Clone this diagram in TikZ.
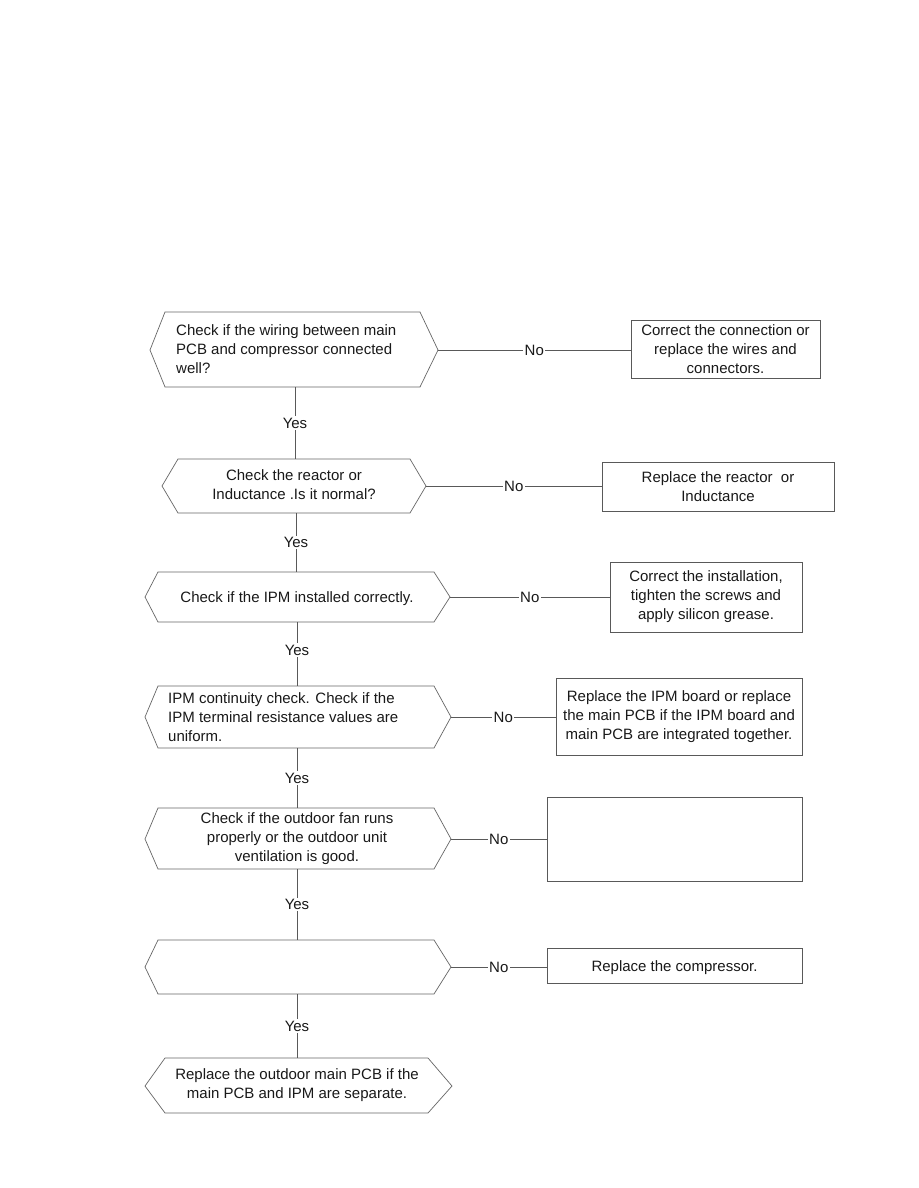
\documentclass[tikz,border=0pt]{standalone}
\usepackage{fontspec}
\setmainfont{Liberation Sans}
\usetikzlibrary{calc}
\begin{document}
\begin{tikzpicture}[x=1pt,y=-1pt,
  hexa/.style={draw=black!60, line width=0.7pt, line join=miter},
  conn/.style={draw=black!65, line width=0.7pt},
  txt/.style={font=\fontsize{15}{19}\selectfont, inner sep=0pt, align=center, text=black!90},
  box/.style={draw=black!65, line width=0.7pt, inner sep=0pt, align=center, font=\fontsize{15}{19}\selectfont, text=black!90},
  lab/.style={fill=white, inner sep=1.5pt, font=\fontsize{15}{19}\selectfont, text=black!90}]
\useasboundingbox[fill=white] (0,0) rectangle (918,1188);

% decision hexagons
\draw[hexa] (150,350) -- (165,312) -- (420,312) -- (438,350) -- (420,387) -- (165,387) -- cycle;
\node[txt, anchor=west, align=left] (q1) at (176,349) {Check if the wiring between main\\PCB and compressor connected\\well?};
\coordinate (q1r) at (438,350); \coordinate (q1b) at (295,387);

\draw[hexa] (162,486) -- (178,459) -- (410,459) -- (426,486) -- (410,513) -- (178,513) -- cycle;
\node[txt] (q2) at (294,485) {Check the reactor or\\Inductance .Is it normal?};
\coordinate (q2t) at (295,459); \coordinate (q2r) at (426,486); \coordinate (q2b) at (296,513);

\draw[hexa] (145,597) -- (158,572) -- (434,572) -- (450,597) -- (434,622) -- (158,622) -- cycle;
\node[txt] (q3) at (297,599) {Check if the IPM installed correctly.};
\coordinate (q3t) at (296,572); \coordinate (q3r) at (450,597); \coordinate (q3b) at (297,622);

\draw[hexa] (145,717) -- (158,686) -- (434,686) -- (451,717) -- (434,748) -- (158,748) -- cycle;
\node[txt, anchor=west, align=left] (q4) at (168,717) {IPM continuity check. Check if the\\IPM terminal resistance values are\\uniform.};
\coordinate (q4t) at (297,686); \coordinate (q4r) at (451,717); \coordinate (q4b) at (297,748);

\draw[hexa] (145,839) -- (158,808) -- (434,808) -- (451,839) -- (434,869) -- (158,869) -- cycle;
\node[txt] (q5) at (297,839) {Check if the outdoor fan runs\\properly or the outdoor unit\\ventilation is good.};
\coordinate (q5t) at (297,808); \coordinate (q5r) at (451,839); \coordinate (q5b) at (297,869);

\draw[hexa] (145,967) -- (158,940) -- (434,940) -- (451,967) -- (434,994) -- (158,994) -- cycle;
\coordinate (q6t) at (297,940); \coordinate (q6r) at (451,967); \coordinate (q6b) at (297,994);

\draw[hexa] (145,1086) -- (165,1058) -- (428,1058) -- (452,1086) -- (428,1113) -- (165,1113) -- cycle;
\node[txt] (q7) at (297,1085) {Replace the outdoor main PCB if the\\main PCB and IPM are separate.};
\coordinate (q7t) at (297,1058);

% action boxes
\node[box, minimum width=189, minimum height=58] (a1) at (725.5,349) {Correct the connection or\\replace the wires and\\connectors.};
\node[box, minimum width=232, minimum height=49] (a2) at (718,486.5) {Replace the reactor~ or\\Inductance};
\node[box, minimum width=192, minimum height=70] (a3) at (706,597) {Correct the installation,\\tighten the screws and\\apply silicon grease.};
\node[box, minimum width=246, minimum height=77] (a4) at (679,716.5) {Replace the IPM board or replace\\the main PCB if the IPM board and\\main PCB are integrated together.};
\node[box, minimum width=255, minimum height=84] (a5) at (674.5,839) {};
\node[box, minimum width=255, minimum height=35] (a6) at (674.5,965.5) {};
\node[txt] (a6t) at (674.5,967.5) {Replace the compressor.};

% No connectors
\draw[conn] (q1r) -- node[lab]{No} (q1r -| a1.west);
\draw[conn] (q2r) -- node[lab]{No} (q2r -| a2.west);
\draw[conn] (q3r) -- node[lab]{No} (q3r -| a3.west);
\draw[conn] (q4r) -- node[lab]{No} (q4r -| a4.west);
\draw[conn] (q5r) -- node[lab]{No} (q5r -| a5.west);
\draw[conn] (q6r) -- node[lab]{No} (q6r -| a6.west);

% Yes connectors
\draw[conn] (q1b) -- node[lab]{Yes} (q2t);
\draw[conn] (q2b) -- node[lab]{Yes} (q3t);
\draw[conn] (q3b) -- node[lab, pos=0.44]{Yes} (q4t);
\draw[conn] (q4b) -- node[lab]{Yes} (q5t);
\draw[conn] (q5b) -- node[lab]{Yes} (q6t);
\draw[conn] (q6b) -- node[lab]{Yes} (q7t);
\end{tikzpicture}
\end{document}
